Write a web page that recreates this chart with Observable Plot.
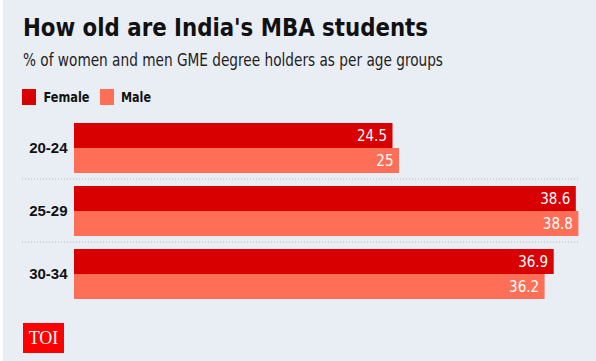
<!DOCTYPE html>
<html>
<head>
<meta charset="utf-8">
<script src="https://cdn.jsdelivr.net/npm/d3@7"></script>
<script src="https://cdn.jsdelivr.net/npm/@observablehq/plot@0.6"></script>
<style>
  html, body { margin: 0; padding: 0; background: #ffffff; }
  #card { position: absolute; left: 3px; top: 0; width: 593px; height: 361px; background: #e9eef5; overflow: hidden; }
  #header { position: relative; height: 110px; }
  .fit { position: absolute; white-space: nowrap; transform-origin: 0 0; color: #111; }
  #title { left: 20px; top: 13px; font: 700 25px "DejaVu Sans Condensed", sans-serif; }
  #subtitle { left: 20px; top: 50px; font: 400 17px "DejaVu Sans Condensed", sans-serif; color: #222; }
  .sw { position: absolute; top: 89px; width: 14px; height: 16px; }
  .lg { position: absolute; top: 89px; line-height: 16px; font: 700 14px "DejaVu Sans Condensed", sans-serif; color: #111; white-space: nowrap; }
  #chart { position: absolute; left: 0; top: 110px; }
  #toi { position: absolute; left: 20px; top: 323px; width: 41px; height: 30px; background: #ff0000; color: #fff;
         font: 400 18px "Liberation Serif", "DejaVu Serif", serif; text-align: center; line-height: 31px; }
</style>
</head>
<body>
<div id="card">
  <div id="header">
    <div id="title" class="fit">How old are India's MBA students</div>
    <div id="subtitle" class="fit">% of women and men GME degree holders as per age groups</div>
    <div class="sw" id="swF" style="left:19px"></div>
    <div class="lg" id="lgF" style="left:38px">Female</div>
    <div class="sw" id="swM" style="left:97px"></div>
    <div class="lg" id="lgM" style="left:116px">Male</div>
  </div>
  <div id="chart"></div>
  <div id="toi">TOI</div>
</div>
<script>
// ---- data ----
const ageGroups = ["20-24", "25-29", "30-34"];
const sexes = ["Female", "Male"];
const femaleValues = [24.5, 38.6, 36.9];
const maleValues = [25, 38.8, 36.2];
const colors = ["#d80000", "#ff6f57"];

const rows = ageGroups.flatMap((age, i) => [
  {age, sex: "Female", value: femaleValues[i]},
  {age, sex: "Male", value: maleValues[i]}
]);
const ageRows = ageGroups.map(age => ({age}));
const sepRows = ageGroups.slice(1).map(age => ({age}));

document.getElementById("swF").style.background = colors[0];
document.getElementById("swM").style.background = colors[1];

const chart = Plot.plot({
  width: 593,
  height: 200,
  marginTop: 12,
  marginBottom: 11,
  marginLeft: 19,
  marginRight: 18,
  style: {background: "transparent", overflow: "visible"},
  x: {domain: [0, 40], range: [71, 591], axis: null},
  y: {domain: sexes, axis: null, padding: 0},
  fy: {domain: ageGroups, axis: null, paddingInner: 0.213, paddingOuter: 0},
  color: {domain: sexes, range: colors},
  marks: [
    Plot.ruleY(sepRows, {fy: "age", y: () => "Female", dy: -20, stroke: "#b3bac6", strokeWidth: 1, strokeDasharray: "1,2"}),
    Plot.barX(rows, {fy: "age", y: "sex", x: "value", fill: "sex"}),
    Plot.text(rows, {fy: "age", y: "sex", x: "value", text: d => String(d.value), textAnchor: "end", dx: -6,
      fill: "#ffffff", fontSize: 15, fontFamily: "'DejaVu Sans Condensed', sans-serif", style: "letter-spacing:-0.4px"}),
    Plot.text(ageRows, {fy: "age", x: () => 0, text: "age", textAnchor: "end", dx: -7,
      fill: "#111", fontSize: 15, fontWeight: 700, fontFamily: "'Liberation Sans', Arial, sans-serif"})
  ]
});
document.getElementById("chart").appendChild(chart);

// fit header texts to measured widths of the reference
function fit(id, w) {
  const el = document.getElementById(id);
  const r = el.getBoundingClientRect();
  el.style.transform = `scaleX(${w / r.width})`;
}
fit("title", 405);
fit("subtitle", 420);
fit("lgF", 46);
fit("lgM", 30);
</script>
</body>
</html>
